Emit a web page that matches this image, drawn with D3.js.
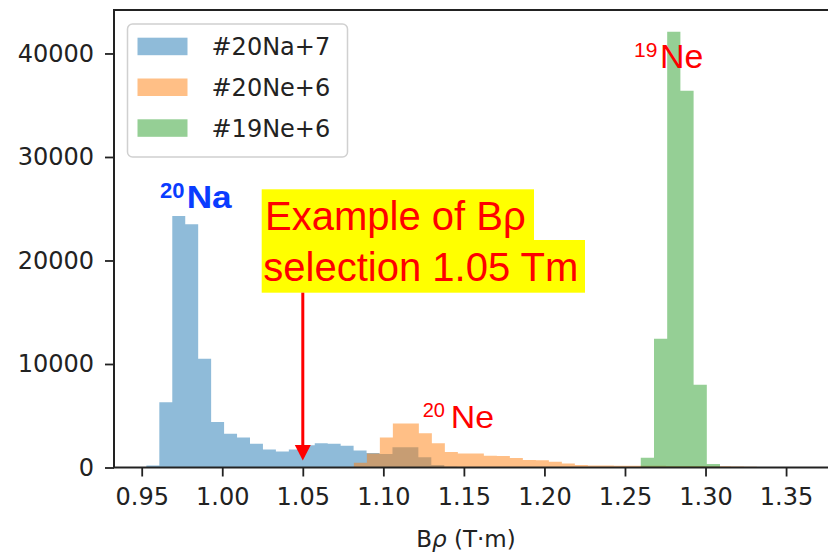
<!DOCTYPE html>
<html>
<head>
<meta charset="utf-8">
<script src="https://cdn.jsdelivr.net/npm/d3@7"></script>
<style>
  body { margin: 0; background: #fff; }
  svg { display: block; }
</style>
</head>
<body>
<svg id="chart" width="828" height="555"></svg>
<script>
// histogram bins: first edge, bin width, counts per bin
var naStart = 0.9529, naWidth = 0.00804;
var naCounts = [200, 6300, 24300, 23500, 10500, 4400, 3250, 2900, 2300, 1750, 1550, 1750,
                2150, 2350, 2300, 2100, 1650, 1400, 1300, 1950, 1950, 1000, 250, 80, 30];

var ne20Start = 1.0817, ne20Width = 0.00807;
var ne20Counts = [450, 1350, 2900, 4250, 4250, 3300, 2350, 1500, 1350, 1350, 1130, 1100,
                  920, 720, 700, 550, 390, 230, 200, 190, 180, 170, 160, 160, 150, 150,
                  140, 130, 120, 100, 80];

var ne19Start = 1.2598, ne19Width = 0.0082;
var ne19Counts = [950, 12450, 42100, 36400, 8000, 350];

var seriesNames = ["#20Na+7", "#20Ne+6", "#19Ne+6"];
var colors = ["#1f77b4", "#ff7f0e", "#2ca02c"];

var xTicks = [0.95, 1.00, 1.05, 1.10, 1.15, 1.20, 1.25, 1.30, 1.35];
var yTicks = [0, 10000, 20000, 30000, 40000];

var selection = 1.05;

var svg = d3.select("#chart");

// plot box (right spine falls off the picture, as in the original)
var pLeft = 114, pTop = 10, pBottom = 467.5, pRight = 834.4;

var x = d3.scaleLinear().domain([0.9328, 1.38]).range([pLeft, pRight]);
var y = d3.scaleLinear().domain([0, 44200]).range([pBottom, pTop]);

svg.append("defs").append("clipPath").attr("id", "plotclip")
  .append("rect").attr("x", pLeft).attr("y", pTop)
  .attr("width", pRight - pLeft).attr("height", pBottom - pTop);

// turn bins into step points
function steps(start, width, counts) {
  var pts = counts.map(function (c, i) { return { e: start + i * width, c: c }; });
  pts.push({ e: start + counts.length * width, c: counts[counts.length - 1] });
  return pts;
}

var area = d3.area()
  .curve(d3.curveStepAfter)
  .x(function (d) { return x(d.e); })
  .y0(y(0))
  .y1(function (d) { return y(d.c); });

var hists = [
  steps(naStart, naWidth, naCounts),
  steps(ne20Start, ne20Width, ne20Counts),
  steps(ne19Start, ne19Width, ne19Counts)
];

svg.append("g").attr("clip-path", "url(#plotclip)")
  .selectAll("path")
  .data(hists)
  .enter()
  .append("path")
  .attr("d", area)
  .attr("fill", function (d, i) { return colors[i]; })
  .attr("fill-opacity", 0.5);

// axes
var xAxis = svg.append("g")
  .attr("transform", "translate(0," + pBottom + ")")
  .call(d3.axisBottom(x).tickValues(xTicks).tickFormat(d3.format(".2f")).tickSize(9).tickPadding(11));

var yAxis = svg.append("g")
  .attr("transform", "translate(" + pLeft + ",0)")
  .call(d3.axisLeft(y).tickValues(yTicks).tickFormat(d3.format("d")).tickSize(9).tickPadding(11));

[xAxis, yAxis].forEach(function (a) {
  a.select(".domain").remove();
  a.selectAll(".tick line").attr("stroke", "#222").attr("stroke-width", 1.8);
  a.selectAll(".tick text")
    .attr("fill", "#222")
    .style("font-family", "DejaVu Sans")
    .style("font-size", "24px");
});

// spines
svg.append("rect")
  .attr("x", pLeft).attr("y", pTop)
  .attr("width", pRight - pLeft).attr("height", pBottom - pTop)
  .attr("fill", "none").attr("stroke", "#222").attr("stroke-width", 2);

svg.append("text")
  .attr("x", 466).attr("y", 547)
  .attr("text-anchor", "middle")
  .style("font-family", "DejaVu Sans").style("font-size", "23px").attr("fill", "#222")
  .html('B<tspan font-style="italic">ρ</tspan> (T·m)');

// legend
var legend = svg.append("g");
legend.append("rect")
  .attr("x", 127.5).attr("y", 24).attr("width", 220).attr("height", 133).attr("rx", 5)
  .attr("fill", "#fff").attr("fill-opacity", 0.8)
  .attr("stroke", "#d0d0d0").attr("stroke-width", 1.5);

var rows = legend.selectAll(".row")
  .data(seriesNames)
  .enter()
  .append("g")
  .attr("class", "row")
  .attr("transform", function (d, i) { return "translate(0," + (46.5 + i * 40.8) + ")"; });

rows.append("rect")
  .attr("x", 137.5).attr("y", -8.8).attr("width", 50).attr("height", 17.5)
  .attr("fill", function (d, i) { return colors[i]; })
  .attr("fill-opacity", 0.5);

rows.append("text")
  .attr("x", 211.5).attr("dy", "0.36em")
  .style("font-family", "DejaVu Sans").style("font-size", "24px").attr("fill", "#222")
  .text(function (d) { return d; });

// isotope labels
function isotope(xs, ys, xb, yb, sup, name, color, weight, size, supSize, len) {
  svg.append("text").attr("x", xs).attr("y", ys)
    .style("font-family", "Liberation Sans").style("font-size", supSize + "px")
    .style("font-weight", weight).attr("fill", color).text(sup);
  svg.append("text").attr("x", xb).attr("y", yb)
    .style("font-family", "Liberation Sans").style("font-size", size + "px")
    .style("font-weight", weight).attr("fill", color)
    .attr("textLength", len).attr("lengthAdjust", "spacingAndGlyphs")
    .text(name);
}

isotope(160, 198, 186.7, 208.3, "20", "Na", "#0a3cff", "bold", 31, 22, 45);
isotope(422.7, 416.7, 450.7, 428.3, "20", "Ne", "#ff0000", "normal", 32, 20, 43.3);
isotope(634, 56.7, 660, 68.3, "19", "Ne", "#ff0000", "normal", 33, 21, 43.3);

// selection annotation
svg.append("rect").attr("x", 261.7).attr("y", 189.3).attr("width", 272.3).attr("height", 50.7).attr("fill", "#ffff00");
svg.append("rect").attr("x", 261.7).attr("y", 240).attr("width", 323.3).attr("height", 52.7).attr("fill", "#ffff00");

svg.append("text").attr("x", 265).attr("y", 230)
  .style("font-family", "Liberation Sans").style("font-size", "40px").attr("fill", "#ff0000")
  .text("Example of Bρ");
svg.append("text").attr("x", 263.3).attr("y", 280.5)
  .style("font-family", "Liberation Sans").style("font-size", "40px").attr("fill", "#ff0000")
  .text("selection 1.05 Tm");

var ax = x(selection);
svg.append("line")
  .attr("x1", ax).attr("x2", ax).attr("y1", 292.7).attr("y2", 447)
  .attr("stroke", "#ff0000").attr("stroke-width", 3);
svg.append("path")
  .attr("d", "M" + (ax - 8) + ",445L" + (ax + 8) + ",445L" + ax + ",460.5Z")
  .attr("fill", "#ff0000");
</script>
</body>
</html>
